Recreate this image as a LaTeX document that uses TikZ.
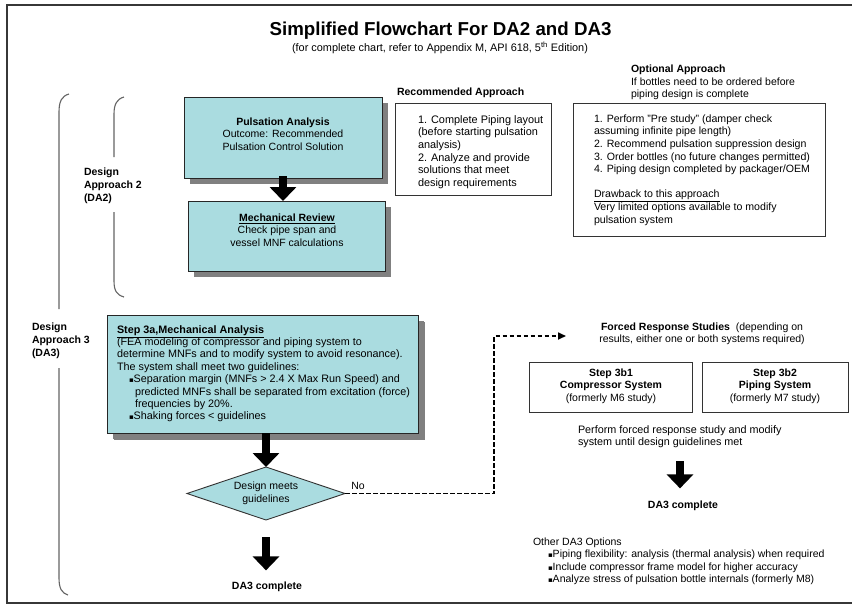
\documentclass[tikz,border=0pt]{standalone}
\usepackage{fontspec}
\setmainfont{Liberation Sans}
\newfontfamily\symfont{DejaVu Sans}
\usetikzlibrary{shapes.geometric,arrows.meta,shadows,calc}
\definecolor{boxcyan}{RGB}{170,220,224}
\definecolor{shadowgray}{RGB}{128,128,128}
\definecolor{framegray}{RGB}{55,55,55}
\definecolor{bracegray}{RGB}{100,100,100}
\newcommand{\bodyfont}{\fontsize{10.5}{12.5}\selectfont}
\newcommand{\mybullet}{{\symfont\fontsize{7}{7}\selectfont ▪}}
\begin{document}
\begin{tikzpicture}[x=1pt,y=-1pt,
  every node/.style={inner sep=0pt, outer sep=0pt},
  txt/.style={font=\bodyfont},
  cyanbox/.style={draw=black!85, line width=0.9pt, fill=boxcyan, anchor=north west,
     drop shadow={shadow xshift=6pt, shadow yshift=-6pt, fill=shadowgray, opacity=1}},
  plainbox/.style={draw=black!80, line width=0.9pt, fill=white, anchor=north west},
  blockarrow/.style={line width=8pt, -{Triangle[width=26pt,length=14pt]}, black},
  dasharrow/.style={line width=1.6pt, dash pattern=on 4.5pt off 2.5pt, -{Triangle[width=7pt,length=8pt]}, black},
  bracestyle/.style={draw=bracegray, line width=1.1pt}
]
\useasboundingbox (0,0) rectangle (852,606);
\fill[white] (0,0) rectangle (852,606);
% frame
\draw[framegray, line width=2.2pt] (853,5) -- (7,5) -- (7,603) -- (853,603);

% title
\node[anchor=base, font=\fontsize{18.7}{22}\selectfont\bfseries] (title) at (440.5,35) {Simplified Flowchart For DA2 and DA3};
\node[anchor=base, font=\fontsize{10.9}{12}\selectfont] (subtitle) at (440,51) {(for complete chart, refer to Appendix M, API 618, 5\textsuperscript{th} Edition)};

% braces
\draw[bracestyle] (69,94) .. controls (62,96) and (59,101) .. (59,112) -- (59,309);
\draw[bracestyle] (59,368) -- (59,578) .. controls (59,589) and (62,593) .. (68,595);
\draw[bracestyle] (124,97) .. controls (117,99) and (114,104) .. (114,114) -- (114,157);
\draw[bracestyle] (114,212) -- (114,281) .. controls (114,291) and (117,295) .. (124,297);

\node[txt, anchor=north west, align=left, font=\fontsize{10.5}{13}\selectfont\bfseries] (da2) at (84,166.5) {\strut Design\\Approach 2\\(DA2)};
\node[txt, anchor=north west, align=left, font=\fontsize{10.5}{13}\selectfont\bfseries] (da3) at (32,321.5) {\strut Design\\Approach 3\\(DA3)};

% Pulsation analysis
\node[cyanbox, minimum width=198pt, minimum height=81pt] (pa) at (184,97) {};
\node[txt, anchor=north, align=center] (pat) at (283,116.5) {\strut\textbf{Pulsation Analysis}\\Outcome: Recommended\\Pulsation Control Solution};

% Mechanical review
\node[cyanbox, minimum width=197pt, minimum height=70pt] (mr) at (188,201) {};
\node[txt, anchor=north, align=center] (mrt) at (287,212.5) {\strut\textbf{\underline{Mechanical Review}}\\Check pipe span and\\vessel MNF calculations};

\draw[blockarrow] ($(pa.south)+(0,-2)$) -- (pa.south |- mr.north);

% Recommended approach
\node[anchor=base west, font=\bodyfont\bfseries] (rect) at (397,95.5) {Recommended Approach};
\node[plainbox, minimum width=156pt, minimum height=92pt] (rec) at (395,103) {};
\node[txt, anchor=north west, align=left, font=\fontsize{10.9}{12.6}\selectfont] (rect2) at (418,114.5) {\strut 1. Complete Piping layout\\(before starting pulsation\\analysis)\\2. Analyze and provide\\solutions that meet\\design requirements};

% Optional approach
\node[anchor=base west, font=\bodyfont\bfseries] (optt) at (631,72.5) {Optional Approach};
\node[txt, anchor=north west, align=left] (opts) at (631,76.5) {\strut If bottles need to be ordered before\\piping design is complete};
\node[plainbox, minimum width=252pt, minimum height=133pt] (opt) at (573,103) {};
\node[txt, anchor=north west, align=left, font=\fontsize{10.6}{12.6}\selectfont] (optx) at (594,113.5) {\strut 1. Perform "Pre study" (damper check\\assuming infinite pipe length)\\2. Recommend pulsation suppression design\\3. Order bottles (no future changes permitted)\\4. Piping design completed by packager/OEM\\[12.6pt]\underline{Drawback to this approach}\\Very limited options available to modify\\pulsation system};

% Step 3a
\node[cyanbox, minimum width=311pt, minimum height=118pt, drop shadow={shadow xshift=7pt, shadow yshift=-7pt, fill=shadowgray, opacity=1}] (s3a) at (107,315) {};
\node[txt, anchor=north west, align=left, font=\fontsize{10.8}{12.4}\selectfont] (s3at) at (117,324.5) {\strut\textbf{\underline{Step 3a,Mechanical Analysis}}\\(FEA modeling of compressor and piping system to\\determine MNFs and to modify system to avoid resonance).\\The system shall meet two guidelines:\\\hspace*{12pt}\mybullet Separation margin (MNFs > 2.4 X Max Run Speed) and\\\hspace*{18pt}predicted MNFs shall be separated from excitation (force)\\\hspace*{18pt}frequencies by 20\%.\\\hspace*{12pt}\mybullet Shaking forces < guidelines};

% Diamond
\node[diamond, draw=black!80, line width=0.9pt, fill=boxcyan, minimum width=158pt, minimum height=53pt, aspect=3, align=center, font=\bodyfont] (dm) at (266,493.5) {Design meets\\guidelines};
\draw[blockarrow] (dm.north |- s3a.south) -- (dm.north);
\node[anchor=base, font=\bodyfont] (no) at (358,489) {No};

\coordinate (a3) at (266,537);
\node[anchor=base, font=\bodyfont\bfseries] (dc1) at (267,589) {DA3 complete};
\draw[blockarrow, shorten >=11pt] (a3) -- (a3 |- dc1.north);

% dashed connector
\coordinate (dtop) at (494,336);
\coordinate (dtip) at (566,336);
\draw[dasharrow] (dm.east) -| (dtop) -- (dtip);

% Forced response
\node[txt, anchor=north, align=center] (frs) at (702,321.5) {\strut\textbf{Forced Response Studies}\ \ (depending on\\results, either one or both systems required)};

\node[plainbox, minimum width=163pt, minimum height=50pt] (b1) at (529,362) {};
\node[txt, anchor=north, align=center] (b1t) at (611,367.5) {\strut\textbf{Step 3b1}\\\textbf{Compressor System}\\(formerly M6 study)};
\node[plainbox, minimum width=146pt, minimum height=50pt] (b2) at (702,362) {};
\node[txt, anchor=north, align=center] (b2t) at (775,367.5) {\strut\textbf{Step 3b2}\\\textbf{Piping System}\\(formerly M7 study)};

\node[txt, anchor=north west, align=left, font=\fontsize{10.8}{12.6}\selectfont] (perf) at (578,424.5) {\strut Perform forced response study and modify\\system until design guidelines met};

\coordinate (a4) at (680,461);
\node[anchor=base, font=\bodyfont\bfseries] (dc2) at (683,508) {DA3 complete};
\draw[blockarrow, shorten >=12pt] (a4) -- (a4 |- dc2.north);

\node[txt, anchor=north west, align=left] (other) at (533,536.5) {\strut Other DA3 Options\\\hspace*{15pt}\mybullet Piping flexibility: analysis (thermal analysis) when required\\\hspace*{15pt}\mybullet Include compressor frame model for higher accuracy\\\hspace*{15pt}\mybullet Analyze stress of pulsation bottle internals (formerly M8)};
\end{tikzpicture}
\end{document}
